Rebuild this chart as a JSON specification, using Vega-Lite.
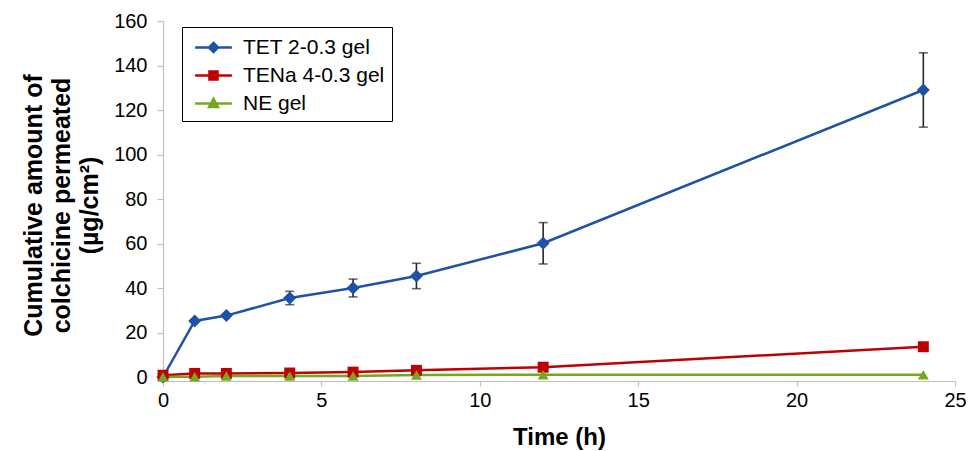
{
  "$schema": "https://vega.github.io/schema/vega-lite/v6.json",
  "width": 792,
  "height": 356,
  "autosize": "none",
  "padding": {"left": 163, "top": 21, "right": 14, "bottom": 74},
  "background": "white",
  "config": {
    "view": {"stroke": null},
    "font": "Liberation Sans",
    "axis": {"grid": false, "domainColor": "#BFBFBF", "tickColor": "#BFBFBF", "domainWidth": 1.2, "tickWidth": 1.2, "labelColor": "#000000", "labelFontSize": 20, "labelFont": "Liberation Sans", "titleFont": "Liberation Sans", "titleFontWeight": "bold", "titleColor": "#000000"}
  },
  "data": {
    "values": [
      {"series": "TET 2-0.3 gel", "time": 0, "value": 0, "err": 0},
      {"series": "TET 2-0.3 gel", "time": 1, "value": 25.2, "err": 0},
      {"series": "TET 2-0.3 gel", "time": 2, "value": 27.6, "err": 0},
      {"series": "TET 2-0.3 gel", "time": 4, "value": 35.5, "err": 3.0},
      {"series": "TET 2-0.3 gel", "time": 6, "value": 40.0, "err": 4.0},
      {"series": "TET 2-0.3 gel", "time": 8, "value": 45.4, "err": 5.7},
      {"series": "TET 2-0.3 gel", "time": 12, "value": 60.1, "err": 9.3},
      {"series": "TET 2-0.3 gel", "time": 24, "value": 129.0, "err": 16.7},
      {"series": "TENa 4-0.3 gel", "time": 0, "value": 0.8, "err": 0},
      {"series": "TENa 4-0.3 gel", "time": 1, "value": 1.6, "err": 0},
      {"series": "TENa 4-0.3 gel", "time": 2, "value": 1.6, "err": 0},
      {"series": "TENa 4-0.3 gel", "time": 4, "value": 1.8, "err": 0},
      {"series": "TENa 4-0.3 gel", "time": 6, "value": 2.2, "err": 0},
      {"series": "TENa 4-0.3 gel", "time": 8, "value": 3.0, "err": 0},
      {"series": "TENa 4-0.3 gel", "time": 12, "value": 4.4, "err": 0},
      {"series": "TENa 4-0.3 gel", "time": 24, "value": 13.6, "err": 0},
      {"series": "NE gel", "time": 0, "value": 0, "err": 0},
      {"series": "NE gel", "time": 1, "value": 0.1, "err": 0},
      {"series": "NE gel", "time": 2, "value": 0.4, "err": 0},
      {"series": "NE gel", "time": 4, "value": 0.4, "err": 0},
      {"series": "NE gel", "time": 6, "value": 0.5, "err": 0},
      {"series": "NE gel", "time": 8, "value": 0.9, "err": 0},
      {"series": "NE gel", "time": 12, "value": 1.0, "err": 0},
      {"series": "NE gel", "time": 24, "value": 1.0, "err": 0}
    ]
  },
  "encoding": {
    "x": {
      "field": "time", "type": "quantitative",
      "scale": {"domain": [0, 25], "nice": false, "zero": false},
      "axis": {"values": [0, 5, 10, 15, 20, 25], "title": "Time (h)", "titleFontSize": 24, "offset": 4, "tickSize": 5, "labelPadding": 4, "labelFlush": false, "titleBaseline": "alphabetic", "titleY": 63}
    },
    "y": {
      "field": "value", "type": "quantitative",
      "scale": {"domain": [0, 160], "nice": false},
      "axis": {"values": [0, 20, 40, 60, 80, 100, 120, 140, 160], "title": ["Cumulative amount of", "colchicine permeated", "(µg/cm²)"], "titleFontSize": 25, "titleLineHeight": 28, "titleBaseline": "middle", "titleX": -130, "titleY": 184, "titleAngle": -90, "tickSize": 6, "labelPadding": 10}
    }
  },
  "layer": [
    {
      "transform": [{"filter": "datum.err > 0"}],
      "mark": {"type": "errorbar", "ticks": {"size": 9, "thickness": 1.6, "color": "#262626"}, "rule": {"strokeWidth": 1.6, "color": "#262626"}},
      "encoding": {
        "y": {"field": "value", "type": "quantitative"},
        "yError": {"field": "err"}
      }
    },
    {
      "mark": {"type": "line", "strokeWidth": 2.5},
      "encoding": {
        "color": {
          "field": "series", "type": "nominal",
          "scale": {"domain": ["TET 2-0.3 gel", "TENa 4-0.3 gel", "NE gel"], "range": ["#1F52A6", "#C00000", "#76A81E"]},
          "legend": {
            "title": null, "orient": "none", "legendX": 19, "legendY": 6,
            "strokeColor": "#000000", "fillColor": "#FFFFFF", "padding": 7,
            "symbolSize": 600, "symbolOffset": 11, "labelOffset": 16, "rowPadding": 4,
            "labelFontSize": 21, "labelFont": "Liberation Sans", "labelColor": "#000000",
            "symbolStrokeWidth": 2.5, "labelLimit": 300,
            "encode": {
              "symbols": {
                "update": {
                  "shape": {"signal": "datum.value === 'TET 2-0.3 gel' ? 'M-1.5,0H1.5M0,-0.37L0.37,0L0,0.37L-0.37,0Z' : datum.value === 'TENa 4-0.3 gel' ? 'M-1.5,0H1.5M-0.33,-0.33H0.33V0.33H-0.33Z' : 'M-1.5,0H1.5M0,-0.38L0.36,0.28L-0.36,0.28Z'"},
                  "fill": {"signal": "scale('color', datum.value)"},
                  "stroke": {"signal": "scale('color', datum.value)"},
                  "strokeWidth": {"value": 2.5},
                  "opacity": {"value": 1}
                }
              }
            }
          }
        },
        "order": {"field": "time", "type": "quantitative"}
      }
    },
    {
      "transform": [{"filter": "datum.series === 'TET 2-0.3 gel'"}],
      "mark": {"type": "point", "filled": true, "size": 170, "opacity": 1, "shape": "diamond"},
      "encoding": {"color": {"field": "series", "type": "nominal", "legend": null}}
    },
    {
      "transform": [{"filter": "datum.series === 'TENa 4-0.3 gel'"}],
      "mark": {"type": "point", "filled": true, "size": 120, "opacity": 1, "shape": "square"},
      "encoding": {"color": {"field": "series", "type": "nominal", "legend": null}}
    },
    {
      "transform": [{"filter": "datum.series === 'NE gel'"}],
      "mark": {"type": "point", "filled": true, "size": 120, "opacity": 1, "shape": "triangle-up"},
      "encoding": {"color": {"field": "series", "type": "nominal", "legend": null}}
    }
  ]
}
